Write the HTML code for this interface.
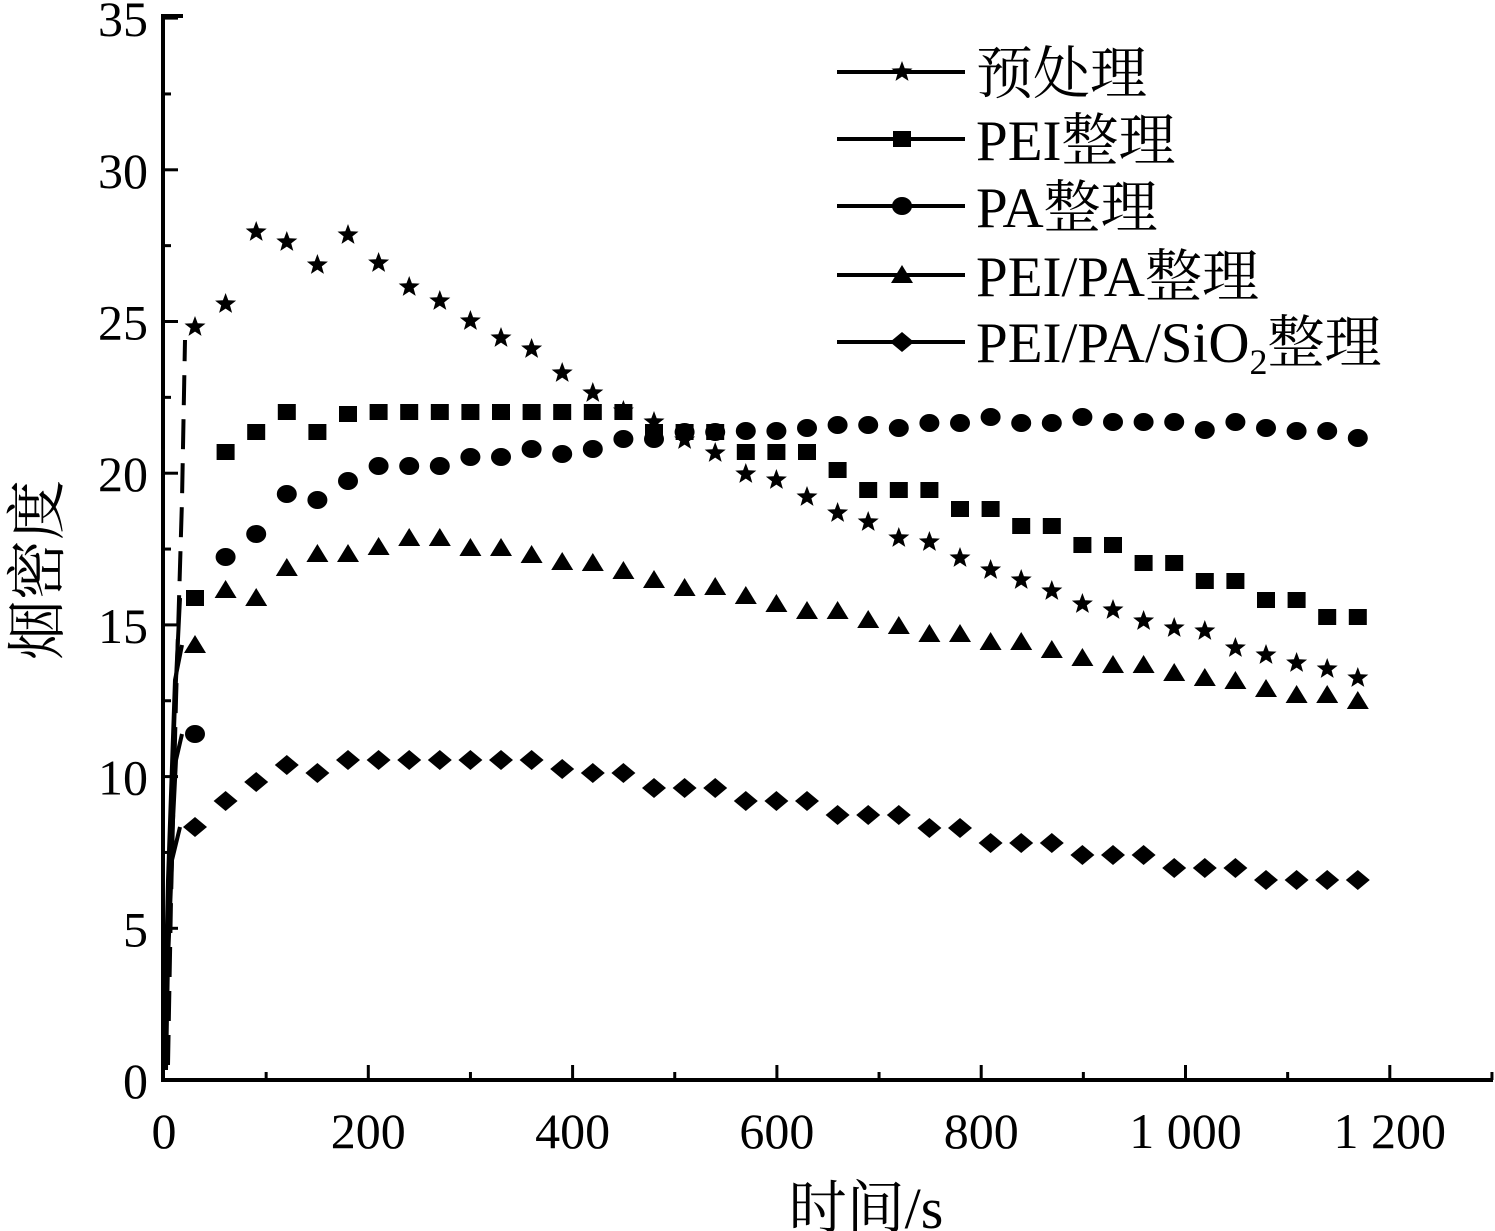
<!DOCTYPE html><html><head><meta charset="utf-8"><style>body{margin:0;background:#fff}svg{display:block}</style></head><body>
<svg id="s" width="1495" height="1231" xmlns="http://www.w3.org/2000/svg" font-family="'Liberation Serif','Noto Serif CJK SC',serif">
<g stroke="#000" stroke-width="4" fill="none">
<line x1="163" y1="14" x2="163" y2="1082"/>
<line x1="161" y1="1080" x2="1493" y2="1080"/>
<line x1="161" y1="16" x2="183" y2="16"/>
</g>
<g id="ax" stroke="#000" stroke-width="3"></g>
<g font-size="50" text-anchor="end" id="yl"></g>
<g font-size="50" text-anchor="middle" id="xl"></g>
<text x="866" y="1228" font-size="58" text-anchor="middle">时间/s</text>
<text transform="translate(58,570) rotate(-90)" font-size="60" text-anchor="middle">烟密度</text>
<g stroke="#000" stroke-width="4" fill="none">
<path d="M168 1065 L171 900 L176 700 L182 500 L185 340" stroke-dasharray="30 14"/>
<path d="M166 1070 L170 850 L175 700 L180 598"/>
<path d="M165 1070 L169 900 L176 760 L182 734"/>
<path d="M164 1060 L168 880 L175 680 L182 645"/>
<path d="M164 1060 L168 960 L172 860 L180 827"/>
</g>
<g id="m" fill="#000"></g>
<g font-size="57">
<line x1="837" y1="72" x2="965" y2="72" stroke="#000" stroke-width="4"/>
<line x1="837" y1="139" x2="965" y2="139" stroke="#000" stroke-width="4"/>
<line x1="837" y1="206" x2="965" y2="206" stroke="#000" stroke-width="4"/>
<line x1="837" y1="275" x2="965" y2="275" stroke="#000" stroke-width="4"/>
<line x1="837" y1="342" x2="965" y2="342" stroke="#000" stroke-width="4"/>
<text x="976" y="93">预处理</text>
<text x="976" y="160">PEI整理</text>
<text x="976" y="227">PA整理</text>
<text x="976" y="296">PEI/PA整理</text>
<text x="976" y="362">PEI/PA/SiO<tspan font-size="36" dy="12">2</tspan><tspan dy="-12">整理</tspan></text>
</g>
</svg>
<script>
const NS="http://www.w3.org/2000/svg";
function el(p,t,a,txt){const e=document.createElementNS(NS,t);for(const k in a)e.setAttribute(k,a[k]);if(txt!==undefined)e.textContent=txt;document.getElementById(p).appendChild(e);}
for(let v=0;v<=35;v+=2.5){const y=1080-v*30.34;const maj=v%5==0;el('ax','line',{x1:163,y1:y,x2:maj?178:171,y2:y});if(maj)el('yl','text',{x:148,y:y+18},String(v));}
for(let v=100;v<=1400;v+=100){const x=164+v*1.0215;const maj=v%200==0;el('ax','line',{x1:x,y1:1080,x2:x,y2:maj?1065:1072});}
[0,200,400,600,800,"1 000","1 200"].forEach((t,i)=>el('xl','text',{x:164+i*204.3,y:1148},String(t)));
const xs=[];for(let i=0;i<39;i++)xs.push(195+i*30.6);
const S=[327,304,232,242,265,235,263,287,301,321,338,349,373,393,411,422,440,453,474,480,497,513,522,538,542,558,570,580,591,604,610,621,628,631,648,655,663,669,678];
const Q=[598,452,432,412,432,414,412,412,412,412,412,412,412,412,412,432,432,432,452,452,452,470,490,490,490,509,509,526,526,545,545,563,563,581,581,600,600,617,617];
const C=[734,557,534,494,500,481,466,466,466,457,457,449,454,449,439,439,432,432,431,431,428,425,425,428,423,423,417,423,423,417,422,422,422,430,422,428,431,431,438];
const T=[645,590,598,568,554,554,547,538,538,548,548,555,562,563,571,580,588,587,596,604,611,611,620,626,634,634,642,642,650,658,665,665,673,678,681,689,695,695,701];
const D=[827,801,782,765,773,760,760,760,760,760,760,760,769,773,773,788,788,788,801,801,801,815,815,815,828,828,843,843,843,855,855,855,868,868,868,880,880,880,880];
function star(x,y,r){let p=[];for(let i=0;i<10;i++){const a=-Math.PI/2+i*Math.PI/5,rr=i%2?r*0.42:r;p.push((x+rr*Math.cos(a)).toFixed(1)+","+(y+rr*Math.sin(a)).toFixed(1));}el('m','polygon',{points:p.join(" ")});}
function sq(x,y){el('m','rect',{x:x-9,y:y-8,width:18,height:16});}
function ci(x,y){el('m','ellipse',{cx:x,cy:y,rx:10,ry:9});}
function tr(x,y){el('m','polygon',{points:`${x},${y-10} ${x+11},${y+8} ${x-11},${y+8}`});}
function di(x,y){el('m','polygon',{points:`${x},${y-10} ${x+12},${y} ${x},${y+10} ${x-12},${y}`});}
xs.forEach((x,i)=>{star(x,S[i],11);sq(x,Q[i]);ci(x,C[i]);tr(x,T[i]);di(x,D[i]);});
star(902,72,11);sq(902,139);ci(902,206);tr(902,275);di(902,342);
</script>
</body></html>
